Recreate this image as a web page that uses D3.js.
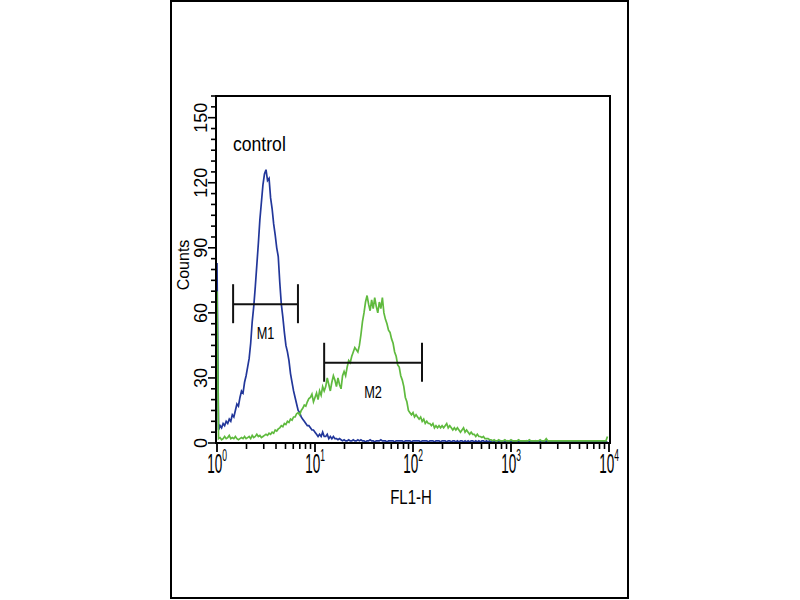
<!DOCTYPE html>
<html><head><meta charset="utf-8">
<script src="https://cdn.jsdelivr.net/npm/d3@7"></script>
<style>body{margin:0;background:#fff}</style>
</head><body><svg id="chart" width="800" height="600"></svg>
<script>
// 256 log-scaled channels spanning 10^0 .. 10^4 (FL1-H)
const blueCounts = [
 83, 6, 8, 7, 9, 8, 10, 9, 11, 10,
 13, 12, 15, 18, 17, 21, 24, 23, 28, 31,
 35, 39, 46, 56, 63, 72, 82, 92, 103, 111,
 119, 124, 126, 121, 122, 113, 108, 101, 96, 90,
 86, 74, 64, 58, 51, 45, 42, 38, 32, 28,
 24, 21, 18, 15, 14, 12, 11, 10, 9, 8,
 8, 7, 6, 6, 5, 4, 3, 4, 3, 5,
 3, 3, 4, 2, 3, 2, 3, 2, 2, 1.5,
 2, 1.5, 1, 1.5, 1, 1, 1.5, 1, 1, 1.5,
 1, 1, 1.5, 1, 1.5, 1, 1, 0.5, 1, 1,
 1.5, 1, 1, 0.5, 1, 1, 1, 1.5, 1, 1,
 1, 0.5, 1, 1, 1, 1, 0.5, 1, 1, 1,
 1, 1, 0.5, 1, 1, 1, 1, 0.5, 1, 1,
 1, 1, 1, 0.5, 1, 1, 1, 1, 0.5, 1,
 1, 1, 0.5, 1, 1, 1, 0.5, 1, 1, 1,
 0.5, 1, 1, 0.5, 1, 1, 0.5, 1, 0.5, 1,
 1, 0.5, 1, 0.5, 1, 0.5, 1, 1, 0.5, 1,
 0.5, 1, 0.5, 1, 1, 0.5, 1, 0.5, 1, 0.5,
 1, 0.5, 1, 1, 0.5, 1, 0.5, 1, 0.5, 0.5,
 1, 0.5, 0.5, 1, 0.5, 0.5, 1, 0.5, 0.5, 0.5,
 0.5, 0.5, 1, 0.5, 0.5, 0.5, 0.5, 0.5, 1, 0.5,
 0.5, 0.5, 0.5, 0.5, 0.5, 1, 0.5, 0.5, 0.5, 0.5,
 0.5, 0.5, 0.5, 0.5, 0.5, 0.5, 0.5, 0.5, 0.5, 0.5,
 0.5, 0.5, 0.5, 0.5, 0.5, 0.5, 0.5, 0.5, 0.5, 0.5,
 0.5, 0.5, 0.5, 0.5, 0.5, 0.5, 0.5, 0.5, 0.5, 0.5,
 0.5, 0.5, 0.5, 0.5, 0.5, 0.5
];
const greenCounts = [
 70, 2, 2.5, 1.5, 2, 3, 2, 2.5, 3.5, 2,
 2.5, 2, 3, 2, 1.5, 2, 2.5, 2, 3, 2,
 2.5, 3, 2, 3.5, 2.5, 3, 4, 3, 3.5, 2.5,
 3, 3.5, 4, 3.5, 4.5, 4, 5, 4.5, 6, 5.5,
 6.5, 7, 8, 7.5, 9, 8.5, 10, 9.5, 11, 10.5,
 12, 12, 13.5, 14, 13, 15, 16, 17.5, 17, 19,
 20.5, 21, 22.5, 19, 21, 23, 20, 24, 22, 26,
 24, 26, 30, 27, 24, 28, 31, 29, 26, 30,
 27, 25, 31, 33, 31, 35, 38, 37, 40, 42,
 44, 43, 42, 45, 50, 56, 60, 65, 68, 64,
 61, 66, 62, 67, 63, 60, 65, 62, 67, 60,
 57, 55, 52, 51, 48, 46, 42, 40, 36, 35,
 31, 29, 26, 21, 19, 15, 14, 13, 14, 12,
 13, 12, 11, 12, 10, 11, 9, 10, 9, 9,
 8, 9, 7, 8, 7, 8, 7, 8, 7, 8,
 9, 7, 8, 7, 6, 7, 6, 7, 6, 5,
 6, 7, 5, 6, 5, 4, 5, 4, 4, 3,
 4, 3, 3, 2.5, 3, 2, 2, 2, 1.5, 1.5,
 1, 1.5, 1, 1, 1.5, 1, 1, 1, 1.5, 1,
 1, 1, 1.5, 1, 1, 1, 1, 1.5, 1, 1,
 1, 1, 1, 1, 1.5, 1, 1, 1, 1, 1,
 1, 1.5, 1, 1, 1, 2, 1, 1, 1, 1,
 1, 1, 1, 1, 1, 1, 1, 1, 1, 1,
 1, 1, 1, 1, 1, 1, 1, 1, 1, 1,
 1, 1, 1, 1, 1, 1, 1, 1, 1, 1,
 1, 1, 1, 1, 1, 3
];
const yTickValues = [0, 30, 60, 90, 120, 150];
const yMinorStep = 5;
const xDecades = [0, 1, 2, 3, 4];
const markerLabels = ["M1", "M2"];
const markerFrom = [1.46, 12.4];
const markerTo = [6.7, 123.6];
const markerCount = [64, 37];
const seriesLabel = "control";
const xTitle = "FL1-H";
const yTitle = "Counts";

const svg = d3.select("#chart");
const pLeft = 216, pRight = 610, pTop = 96, pBottom = 443;
const font = "'Liberation Sans', Arial, sans-serif";

svg.append("rect").attr("x", 171).attr("y", 1).attr("width", 457).attr("height", 597)
  .attr("fill", "none").attr("stroke", "#000").attr("stroke-width", 2);

const x = d3.scaleLog().domain([1, 1e4]).range([pLeft + 1, pRight - 1]);
const xChan = d3.scaleLinear().domain([0, 256]).range([pLeft + 1, pRight - 1]);
const y = d3.scaleLinear().domain([0, 160]).range([pBottom, pTop]);

// y ticks
const yMinor = d3.range(0, 161, yMinorStep);
svg.append("g").selectAll("line").data(yMinor).join("line")
  .attr("x1", d => yTickValues.includes(d) ? pLeft - 8 : pLeft - 5).attr("x2", pLeft)
  .attr("y1", d => y(d)).attr("y2", d => y(d))
  .attr("stroke", "#000").attr("stroke-width", 1.6);
svg.append("g").selectAll("text").data(yTickValues).join("text")
  .attr("transform", d => `translate(207,${y(d)}) rotate(-90)`)
  .attr("text-anchor", "middle")
  .attr("font-family", font).attr("font-size", 18).attr("fill", "#000")
  .text(d => d);

// x ticks
const xMinorVals = [];
xDecades.slice(0, -1).forEach(e => { [2,3,4,5,6,7,8,9].forEach(m => xMinorVals.push(m * Math.pow(10, e))); });
svg.append("g").selectAll("line").data(xMinorVals).join("line")
  .attr("x1", d => x(d)).attr("x2", d => x(d)).attr("y1", pBottom).attr("y2", pBottom + 6)
  .attr("stroke", "#000").attr("stroke-width", 1.6);
svg.append("g").selectAll("line").data(xDecades).join("line")
  .attr("x1", d => x(Math.pow(10, d))).attr("x2", d => x(Math.pow(10, d)))
  .attr("y1", pBottom).attr("y2", pBottom + 9)
  .attr("stroke", "#000").attr("stroke-width", 1.8);
const xl = svg.append("g").selectAll("g").data(xDecades).join("g")
  .attr("transform", d => `translate(${x(Math.pow(10, d))},473) scale(0.5,1)`);
xl.append("text").attr("text-anchor", "middle")
  .attr("font-family", font).attr("font-size", 27).attr("fill", "#000")
  .each(function(d) {
    const t = d3.select(this);
    t.append("tspan").text("10");
    t.append("tspan").attr("font-size", 17).attr("dy", -12).text(d);
  });

// titles
svg.append("text").attr("transform", "translate(411,504) scale(0.75,1)").attr("text-anchor", "middle")
  .attr("font-family", font).attr("font-size", 20).attr("fill", "#000")
  .text(xTitle);
svg.append("text").attr("transform", "translate(189,265) rotate(-90)").attr("text-anchor", "middle")
  .attr("font-family", font).attr("font-size", 16).attr("fill", "#000").text(yTitle);

// curves
const line = d3.line().x((d, i) => xChan(i)).y(d => y(d));
svg.append("path").datum(blueCounts).attr("d", line)
  .attr("fill", "none").attr("stroke", "#22379a").attr("stroke-width", 1.7);
svg.append("path").datum(greenCounts).attr("d", line)
  .attr("fill", "none").attr("stroke", "#5fba3e").attr("stroke-width", 1.7);

// plot frame
svg.append("rect").attr("x", pLeft).attr("y", pTop).attr("width", pRight - pLeft).attr("height", pBottom - pTop)
  .attr("fill", "none").attr("stroke", "#000").attr("stroke-width", 2);

// markers
markerLabels.forEach((lab, i) => {
  const g = svg.append("g").attr("stroke", "#111").attr("stroke-width", 2);
  const x1 = x(markerFrom[i]), x2 = x(markerTo[i]), yy = y(markerCount[i]);
  g.append("line").attr("x1", x1).attr("x2", x2).attr("y1", yy).attr("y2", yy);
  g.append("line").attr("x1", x1).attr("x2", x1).attr("y1", yy - 20).attr("y2", yy + 19);
  g.append("line").attr("x1", x2).attr("x2", x2).attr("y1", yy - 20).attr("y2", yy + 19);
  svg.append("text").attr("transform", `translate(${(x1 + x2) / 2},${yy + 35}) scale(0.75,1)`)
    .attr("text-anchor", "middle").attr("font-family", font).attr("font-size", 17).attr("fill", "#000")
    .text(lab);
});

svg.append("text").attr("transform", "translate(233,151) scale(0.88,1)")
  .attr("font-family", font).attr("font-size", 20).attr("fill", "#000").text(seriesLabel);
</script></body></html>
